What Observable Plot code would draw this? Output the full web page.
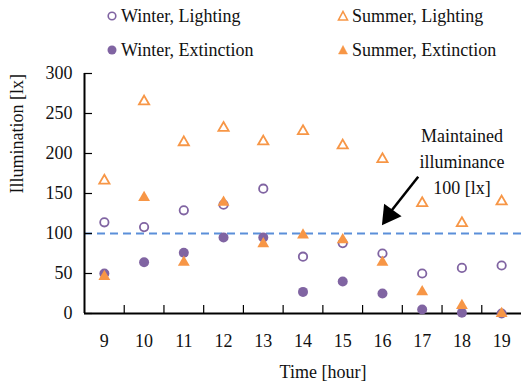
<!DOCTYPE html>
<html><head><meta charset="utf-8">
<script src="https://cdn.jsdelivr.net/npm/d3@7"></script>
<script src="https://cdn.jsdelivr.net/npm/@observablehq/plot@0.6"></script>
<style>
body{margin:0;background:#fff;font-family:"Liberation Serif","Times New Roman",serif;}
#wrap{position:relative;width:521px;height:390px;}
#legend{position:absolute;left:0;top:0;width:521px;height:60px;font-size:18px;color:#111;}
.item{position:absolute;display:flex;align-items:center;white-space:nowrap;}
.item svg{margin-right:3px;}
#chart{position:absolute;left:0;top:60px;}
</style>
</head><body>
<div id="wrap"><div id="legend"></div><div id="chart"></div></div>
<script>
const hours = [9,10,11,12,13,14,15,16,17,18,19];
const winterLighting   = [114,108,129,136,156,71,88,75,50,57,60];
const summerLighting   = [166,265,214,232,215,228,210,193,138,113,140];
const winterExtinction = [50,64,76,95,95,27,40,25,5,1,0];
const summerExtinction = [46,145,64,139,87,98,92,64,27,10,0];
const yTicks = [0,50,100,150,200,250,300];
const xBoundaries = [9.5,10.5,11.5,12.5,13.5,14.5,15.5,16.5,17.5,18.5];
const maintained = 100;
const noteLines = ["Maintained","illuminance","100 [lx]"];
const noteY = [222,189,156];

const purple = "#8064a2", orange = "#f79646", blue = "#5b8fd9";
const rows = a => hours.map((h,i)=>({h, v:a[i]}));

// Legend
const legendItems = [
  {label:"Winter, Lighting", sym:"circle", fill:false, color:purple, x:106, y:16},
  {label:"Summer, Lighting", sym:"tri", fill:false, color:orange, x:337, y:16},
  {label:"Winter, Extinction", sym:"circle", fill:true, color:purple, x:106, y:50},
  {label:"Summer, Extinction", sym:"tri", fill:true, color:orange, x:337, y:50}
];
const lg = document.getElementById("legend");
for (const it of legendItems) {
  const d = document.createElement("div");
  d.className = "item";
  d.style.left = it.x + "px";
  d.style.top = (it.y - 11) + "px";
  d.style.height = "22px";
  const shape = it.sym === "circle"
    ? `<circle cx="6" cy="6" r="${it.fill?4.5:3.8}" fill="${it.fill?it.color:'none'}" stroke="${it.color}" stroke-width="${it.fill?0:1.6}"/>`
    : `<path d="M6,1.5L10.5,10L1.5,10Z" fill="${it.fill?it.color:'none'}" stroke="${it.color}" stroke-width="${it.fill?0.5:1.6}" stroke-linejoin="miter"/>`;
  d.innerHTML = `<svg width="12" height="12">${shape}</svg><span>${it.label}</span>`;
  lg.appendChild(d);
}

const chart = Plot.plot({
  width: 521, height: 330,
  marginLeft: 84, marginRight: 0, marginTop: 13, marginBottom: 77,
  style: {fontFamily: '"Liberation Serif","Times New Roman",serif', fontSize: "18px", color: "#111", background: "white"},
  x: {domain: [8.5, 19.5]},
  y: {domain: [0, 300]},
  marks: [
    Plot.ruleY([maintained], {stroke: blue, strokeWidth: 2, strokeDasharray: "8,5"}),
    // axes
    Plot.axisY(yTicks, {tickSize: 8, dx: 8, text: null, stroke: "#000", strokeWidth: 1.2}),
    Plot.axisY(yTicks, {tickSize: 0, tickPadding: 12, fontSize: 18, label: null}),
    Plot.axisX(xBoundaries, {tickSize: 8, dy: -8, text: null, stroke: "#000", strokeWidth: 1.2, label: null}),
    Plot.axisX(hours, {tickSize: 0, tickPadding: 21, fontSize: 18, label: null, tickFormat: d => String(d)}),
    Plot.ruleX([8.5], {stroke: "#000", strokeWidth: 2}),
    Plot.ruleY([0], {stroke: "#000", strokeWidth: 2}),
    // series
    Plot.dot(rows(winterLighting), {x: "h", y: "v", r: 4.2, stroke: purple, strokeWidth: 1.8, fill: "white"}),
    Plot.dot(rows(summerLighting), {x: "h", y: "v", r: 3.8, symbol: "triangle", stroke: orange, strokeWidth: 1.8, fill: "white"}),
    Plot.dot(rows(winterExtinction), {x: "h", y: "v", r: 5, fill: purple}),
    Plot.dot(rows(summerExtinction), {x: "h", y: "v", r: 4.4, symbol: "triangle", fill: orange}),
    // annotation
    Plot.text(noteLines, {x: () => 18, y: (d,i) => noteY[i], text: d => d, fontSize: 18, textAnchor: "middle"}),
    Plot.link([{x1: 16.9, y1: 171, x2: 16.22, y2: 128}], {x1: "x1", y1: "y1", x2: "x2", y2: "y2", stroke: "#000", strokeWidth: 2.5}),
    Plot.dot([{x: 16.17, y: 123}], {x: "x", y: "y", symbol: "triangle", r: 8, fill: "#000", rotate: 215.8}),
    // axis titles
    Plot.text(["Illumination [lx]"], {frameAnchor: "left", rotate: -90, dx: -67, fontSize: 18}),
    Plot.text(["Time [hour]"], {frameAnchor: "bottom", dy: 64, dx: 20, fontSize: 18})
  ]
});
document.getElementById("chart").appendChild(chart);
</script>
</body></html>
